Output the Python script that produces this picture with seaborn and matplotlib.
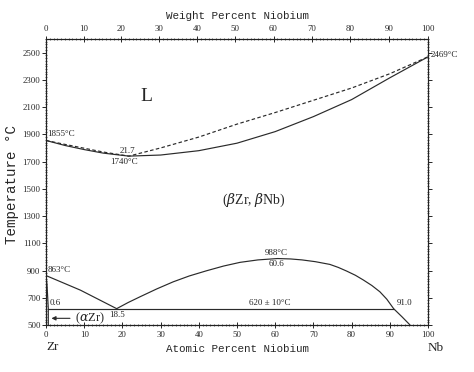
import numpy as np
import pandas as pd
import matplotlib
matplotlib.use('Agg')
import matplotlib.pyplot as plt
import seaborn as sns

# ---- data (atomic percent Nb, temperature degC) ----
liquidus_x = [0, 5, 10, 15, 21.7, 30, 40, 50, 60, 70, 80, 90, 100]
liquidus_T = [1855, 1826, 1798, 1770, 1740, 1800, 1880, 1975, 2060, 2150, 2240, 2345, 2469]

solidus_x = [0, 5, 10, 15, 21.7, 30, 40, 50, 60, 70, 80, 90, 100]
solidus_T = [1855, 1818, 1788, 1762, 1740, 1748, 1780, 1835, 1920, 2030, 2155, 2315, 2469]

alpha_x = [0, 0.25, 0.45, 0.6, 0.6]
alpha_T = [863, 800, 700, 620, 500]

transus_x = [0, 9, 18.5]
transus_T = [863, 756, 620]

dome_x = [18.5, 21.5, 24.6, 29, 33.3, 37.5, 42, 46.5, 50.8, 55.5, 60.6, 64, 67, 70.5,
          74.3, 76.5, 78.7, 81, 83.1, 85.3, 87.4, 89.2, 91.0, 93.2, 95.3]
dome_T = [620, 665, 707, 765, 817, 860, 898, 933, 960, 978, 988, 985, 978, 965,
          945, 923, 896, 865, 830, 790, 744, 690, 620, 560, 500]

eutectoid_x = [0.6, 91.0]
eutectoid_T = [620, 620]

temp_ticks = [500, 700, 900, 1100, 1300, 1500, 1700, 1900, 2100, 2300, 2500]
at_ticks = [0, 10, 20, 30, 40, 50, 60, 70, 80, 90, 100]
wt_ticks = [0, 10, 20, 30, 40, 50, 60, 70, 80, 90, 100]

M_ZR, M_NB = 91.224, 92.906


def wt2at(w):
    w = np.asarray(w, dtype=float)
    a = w / M_NB
    b = (100 - w) / M_ZR
    return 100 * a / (a + b)


sns.set_style('white')
plt.rcParams['font.family'] = ['Liberation Serif', 'DejaVu Serif']
plt.rcParams['mathtext.fontset'] = 'dejavuserif'

fig = plt.figure(figsize=(4.74, 3.72), dpi=100)
ax = fig.add_axes([46 / 474, 1 - 325 / 372, (428 - 46) / 474, (325 - 39) / 372])

lc = '#2a2a2a'
lw = 0.85
sns.lineplot(x=liquidus_x, y=liquidus_T, ax=ax, color=lc, lw=lw, sort=False,
             estimator=None, linestyle=(0, (3, 2)))
for xs, ts in [(solidus_x, solidus_T), (alpha_x, alpha_T), (transus_x, transus_T),
               (dome_x, dome_T), (eutectoid_x, eutectoid_T)]:
    sns.lineplot(x=xs, y=ts, ax=ax, color=lc, lw=lw, sort=False, estimator=None)

ax.set_xlim(0, 100)
ax.set_ylim(500, 2600)

for s in ax.spines.values():
    s.set_color('#222222')
    s.set_linewidth(0.8)

tick_font = dict(family='Liberation Serif', size=6.3)
ax.set_yticks(temp_ticks)
ax.set_yticklabels([str(t) for t in temp_ticks], fontdict=tick_font)
ax.set_yticks(np.arange(500, 2601, 20), minor=True)
ax.set_xticks(at_ticks)
ax.set_xticklabels([str(t) for t in at_ticks], fontdict=tick_font)
ax.set_xticks(np.arange(0, 101, 1), minor=True)
ax.tick_params(axis='y', which='major', direction='out', length=3, width=0.7, pad=1,
               left=True, right=True, labelright=False)
ax.tick_params(axis='y', which='minor', direction='inout', length=1.8, width=0.5,
               left=True, right=True)
ax.tick_params(axis='x', which='major', direction='inout', length=4, width=0.7, pad=2,
               bottom=True)
ax.tick_params(axis='x', which='minor', direction='inout', length=1.8, width=0.5, bottom=True)

axt = ax.twiny()
axt.set_xlim(0, 100)
axt.set_xticks(wt2at(wt_ticks))
axt.set_xticklabels([str(t) for t in wt_ticks], fontdict=tick_font)
axt.set_xticks(wt2at(np.arange(0, 101, 1)), minor=True)
axt.tick_params(axis='x', which='major', direction='inout', length=4, width=0.7, pad=2.5)
axt.tick_params(axis='x', which='minor', direction='inout', length=1.8, width=0.5)
for s in axt.spines.values():
    s.set_linewidth(0.8)
    s.set_color('#222222')

lab_font = dict(family='Liberation Mono', size=7.8)
axt.set_xlabel('Weight Percent Niobium', fontdict=lab_font, labelpad=4)
ax.set_xlabel('Atomic Percent Niobium', fontdict=lab_font, labelpad=4)
fig.text(12 / 474, 1 - 185 / 372, 'Temperature \u00b0C', family='Liberation Mono',
         size=10.2, rotation=90, ha='center', va='center')

fs = 6.5
ax.text(0.3, 1870, '1855\u00b0C', fontsize=fs, ha='left', va='bottom')
ax.text(21.4, 1745, '21.7', fontsize=fs, ha='center', va='bottom')
ax.text(20.5, 1725, '1740\u00b0C', fontsize=fs, ha='center', va='top')
ax.text(100.8, 2480, '2469\u00b0C', fontsize=fs, ha='left', va='center', clip_on=False)
ax.text(26.4, 2180, 'L', fontsize=14, ha='center', va='center')
ax.text(54.5, 1416, r'($\beta$Zr, $\beta$Nb)', fontsize=10, ha='center', va='center')
ax.text(0.3, 875, '863\u00b0C', fontsize=fs, ha='left', va='bottom')
ax.text(0.9, 635, '0.6', fontsize=fs, ha='left', va='bottom')
ax.text(18.5, 605, '18.5', fontsize=fs, ha='center', va='top')
ax.text(60.3, 1000, '988\u00b0C', fontsize=fs, ha='center', va='bottom')
ax.text(60.3, 978, '60.6', fontsize=fs, ha='center', va='top')
ax.text(58.6, 632, '620 \u00b1 10\u00b0C', fontsize=fs, ha='center', va='bottom')
ax.text(91.8, 632, '91.0', fontsize=fs, ha='left', va='bottom')
ax.text(7.7, 549, r'($\alpha$Zr)', fontsize=9, ha='left', va='center')
ax.annotate('', xy=(0.7, 549), xytext=(7.0, 549),
            arrowprops=dict(arrowstyle='-|>', color=lc, lw=0.8, mutation_scale=6))

fig.text(46 / 474, 1 - 347 / 372, 'Zr', fontsize=9.5, ha='left', va='center')
fig.text(428 / 474, 1 - 348 / 372, 'Nb', fontsize=9.5, ha='left', va='center')

fig.savefig('out.png', dpi=100, facecolor='white')
